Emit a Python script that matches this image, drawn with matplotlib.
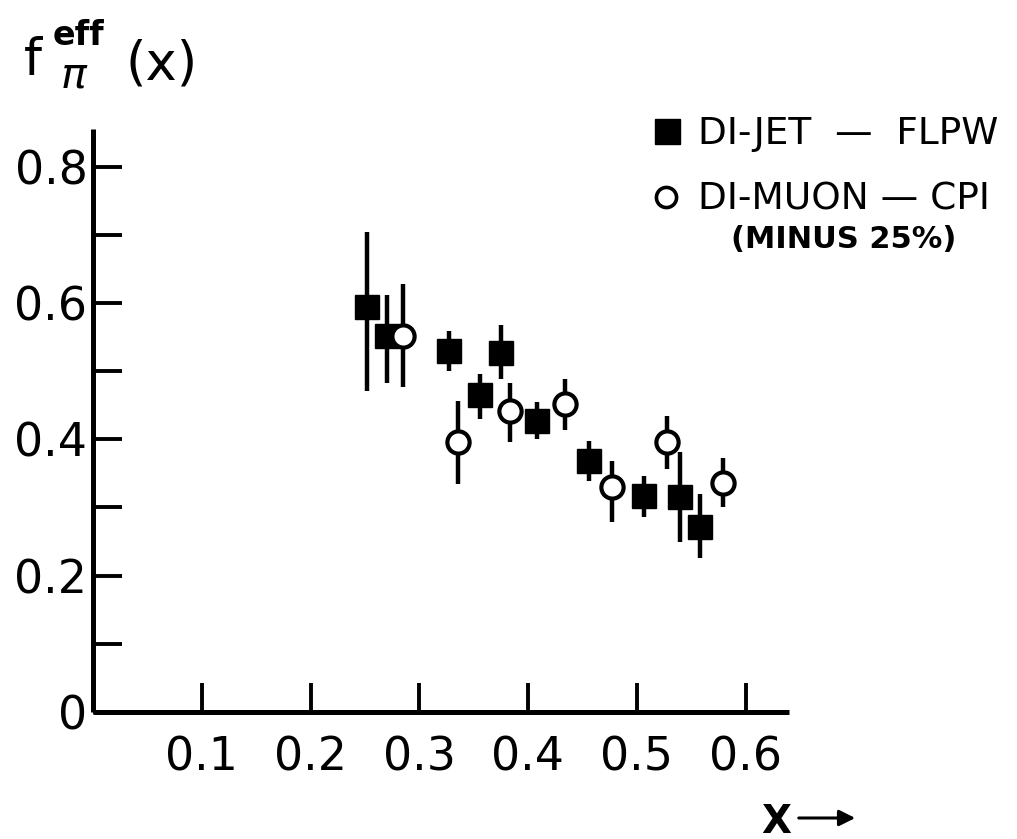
import matplotlib
matplotlib.use("Agg")
import matplotlib.pyplot as plt
from matplotlib.lines import Line2D
import numpy as np

# ── Di-jet (FLPW): filled squares ─────────────────────────────────────────
JET_X  = [0.252, 0.270, 0.327, 0.356, 0.375, 0.408, 0.456, 0.507, 0.540, 0.558]
JET_Y  = [0.594, 0.552, 0.530, 0.465, 0.527, 0.427, 0.368, 0.317, 0.316, 0.272]
JET_HI = [0.704, 0.611, 0.559, 0.496, 0.567, 0.454, 0.398, 0.346, 0.381, 0.319]
JET_LO = [0.471, 0.483, 0.500, 0.429, 0.489, 0.401, 0.339, 0.286, 0.249, 0.226]

# ── Di-muon (CPI, minus 25%): open circles ────────────────────────────────
MU_X  = [0.285, 0.336, 0.383, 0.434, 0.477, 0.528, 0.579]
MU_Y  = [0.552, 0.396, 0.442, 0.452, 0.330, 0.396, 0.336]
MU_HI = [0.628, 0.456, 0.483, 0.489, 0.368, 0.434, 0.373]
MU_LO = [0.476, 0.335, 0.396, 0.413, 0.278, 0.356, 0.301]

X_TICKS = [0.1, 0.2, 0.3, 0.4, 0.5, 0.6]
X_LABELS = ["0.1", "0.2", "0.3", "0.4", "0.5", "0.6"]
Y_TICKS = [0.0, 0.1, 0.2, 0.3, 0.4, 0.5, 0.6, 0.7, 0.8]
Y_LABELS = ["0", "", "0.2", "", "0.4", "", "0.6", "", "0.8"]

JET_LABEL = "DI-JET  —  FLPW"
MU_LABEL = "DI-MUON — CPI"
MU_NOTE = "(MINUS 25%)"

plt.rcParams["font.family"] = ["DejaVu Sans"]
plt.rcParams["mathtext.fontset"] = "dejavusans"

W, H = 1017, 839
fig = plt.figure(figsize=(W / 100, H / 100), dpi=100)
ax = fig.add_axes([93 / W, 127 / H, 696 / W, 583 / H])
ax.set_xlim(0, 0.64)
ax.set_ylim(0, 0.855)

for side in ("top", "right"):
    ax.spines[side].set_visible(False)
for side in ("left", "bottom"):
    ax.spines[side].set_linewidth(3.6)
    ax.spines[side].set_capstyle("butt")

ax.set_xticks(X_TICKS)
ax.set_xticklabels(X_LABELS)
ax.set_yticks(Y_TICKS)
ax.set_yticklabels(Y_LABELS)
ax.tick_params(direction="in", length=21, width=2.8, color="black",
               labelsize=33)
ax.tick_params(axis="y", pad=4)
ax.tick_params(axis="x", pad=17)


def err(y, lo, hi):
    y = np.asarray(y)
    return [y - np.asarray(lo), np.asarray(hi) - y]


ax.errorbar(JET_X, JET_Y, yerr=err(JET_Y, JET_LO, JET_HI), fmt="s",
            color="black", ms=17, mfc="black", mec="black", mew=1,
            elinewidth=3.2, capsize=0, zorder=3)
ax.errorbar(MU_X, MU_Y, yerr=err(MU_Y, MU_LO, MU_HI), fmt="o",
            color="black", ms=16, mfc="white", mec="black", mew=3,
            elinewidth=3.2, capsize=0, zorder=4)

# legend keys and labels, laid out in figure pixels
def fx(px):
    return px / W


def fy(py):
    return 1 - py / H


fig.add_artist(Line2D([fx(667)], [fy(131)], transform=fig.transFigure,
                      ls="none", marker="s", ms=18, mfc="black", mec="black"))
fig.add_artist(Line2D([fx(666)], [fy(197)], transform=fig.transFigure,
                      ls="none", marker="o", ms=14.5, mfc="white",
                      mec="black", mew=2.6))
fig.text(fx(698), fy(144), JET_LABEL, fontsize=27, va="baseline")
fig.text(fx(698), fy(210), MU_LABEL, fontsize=27, va="baseline")
fig.text(fx(731), fy(248), MU_NOTE, fontsize=22, fontweight="bold",
         va="baseline")

# y label: f with stacked "eff" / pi scripts, then (x)
fig.text(fx(24), fy(75), "f", fontsize=37, va="baseline")
fig.text(fx(53), fy(45), "eff", fontsize=24, fontweight="bold",
         va="baseline")
fig.text(fx(60), fy(88), r"$\pi$", fontsize=31, va="baseline")
fig.text(fx(126), fy(80), "(x)", fontsize=38, va="baseline")

# x label with arrow
fig.text(fx(761), fy(833), "X", fontsize=28, fontweight="bold",
         va="baseline")
ax.annotate("", xy=(fx(858), fy(818)), xytext=(fx(796), fy(818)),
            xycoords="figure fraction",
            arrowprops=dict(arrowstyle="-|>", lw=2.2, color="black",
                            mutation_scale=24))

fig.savefig("out.png", dpi=100)
